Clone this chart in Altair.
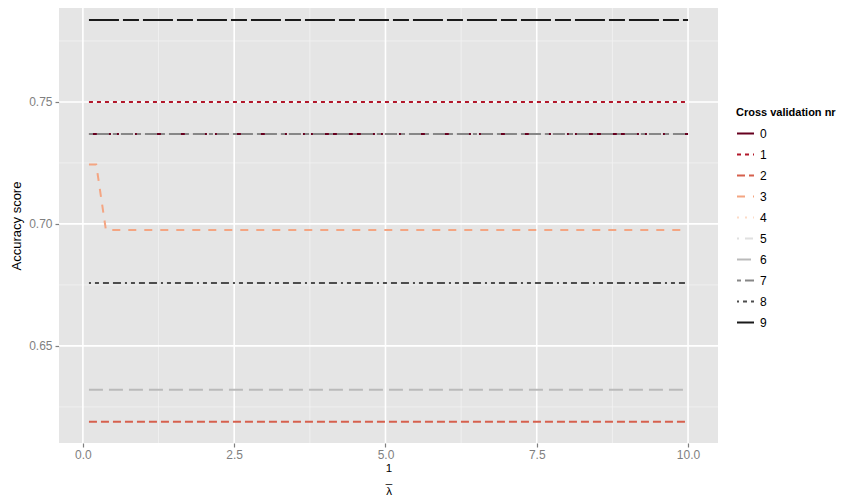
import altair as alt
import pandas as pd

# ---- data ----
cv_ids = ["0", "1", "2", "3", "4", "5", "6", "7", "8", "9"]
inv_lambda = [0.1, 0.22, 0.38, 10.0]
acc_0 = [0.7369, 0.7369, 0.7369, 0.7369]
acc_1 = [0.7500, 0.7500, 0.7500, 0.7500]
acc_2 = [0.6189, 0.6189, 0.6189, 0.6189]
acc_3 = [0.7244, 0.7244, 0.6975, 0.6975]
acc_4 = [0.7369, 0.7369, 0.7369, 0.7369]
acc_5 = [0.7369, 0.7369, 0.7369, 0.7369]
acc_6 = [0.6320, 0.6320, 0.6320, 0.6320]
acc_7 = [0.7369, 0.7369, 0.7369, 0.7369]
acc_8 = [0.6758, 0.6758, 0.6758, 0.6758]
acc_9 = [0.7836, 0.7836, 0.7836, 0.7836]
series = [acc_0, acc_1, acc_2, acc_3, acc_4, acc_5, acc_6, acc_7, acc_8, acc_9]

x_major = [0.0, 2.5, 5.0, 7.5, 10.0]
x_minor = [1.25, 3.75, 6.25, 8.75]
y_major = [0.65, 0.70, 0.75]
y_minor = [0.625, 0.675, 0.725, 0.775]

colors = ["#67001f", "#b2182b", "#d6604d", "#f4a582", "#fddbc7",
          "#e0e0e0", "#bababa", "#878787", "#4d4d4d", "#1a1a1a"]
dashes = [[1, 0], [4, 4], [8, 4], [8, 8], [2, 6], [2, 6, 8, 6],
          [14, 6], [4, 4, 12, 4], [2, 4, 4, 4, 6, 4, 8, 4], [30, 4, 16, 4]]

rows = []
for cv, vals in zip(cv_ids, series):
    for xv, yv in zip(inv_lambda, vals):
        rows.append({"cv": cv, "inv_lambda": xv, "acc": yv})
df = pd.DataFrame(rows)

FONT = "Liberation Sans"
GREY = "#7F7F7F"

xscale = alt.Scale(domain=[-0.395, 10.495], nice=False, zero=False)
yscale = alt.Scale(domain=[0.6102, 0.7885], nice=False, zero=False)

x_axis = alt.Axis(values=x_major, format=".1f", grid=False, domain=False,
                  tickColor=GREY, tickSize=4, tickWidth=1.2,
                  labelColor=GREY, labelFontSize=12, labelFont=FONT, labelPadding=2,
                  title=["1", "_", "\u03bb"], titleFont=FONT, titleFontSize=11.5,
                  titleFontWeight="normal", titleColor="black", titlePadding=2,
                  titleLineHeight=11.5)
y_axis = alt.Axis(values=y_major, format=".2f", grid=False, domain=False,
                  tickColor=GREY, tickSize=4, tickWidth=1.2,
                  labelColor=GREY, labelFontSize=12, labelFont=FONT, labelPadding=3,
                  title="Accuracy score", titleFont=FONT, titleFontSize=13,
                  titleFontWeight="normal", titleColor="black", titlePadding=5)

X = lambda f: alt.X(f, scale=xscale, axis=x_axis)
Y = lambda f: alt.Y(f, scale=yscale, axis=y_axis)

minor_x = alt.Chart(pd.DataFrame({"inv_lambda": x_minor})).mark_rule(
    color="#F2F2F2", strokeWidth=0.8).encode(x=X("inv_lambda:Q"))
minor_y = alt.Chart(pd.DataFrame({"acc": y_minor})).mark_rule(
    color="#F2F2F2", strokeWidth=0.8).encode(y=Y("acc:Q"))
major_x = alt.Chart(pd.DataFrame({"inv_lambda": x_major})).mark_rule(
    color="white", strokeWidth=1.6).encode(x=X("inv_lambda:Q"))
major_y = alt.Chart(pd.DataFrame({"acc": y_major})).mark_rule(
    color="white", strokeWidth=1.6).encode(y=Y("acc:Q"))

legend = alt.Legend(title="Cross validation nr", orient="none", legendX=677, legendY=99,
                    titleFont=FONT, titleFontSize=11, titleFontWeight="bold",
                    titleColor="black", titlePadding=7, titleLimit=200,
                    labelFont=FONT, labelFontSize=12, labelColor="black", labelOffset=5,
                    symbolType="stroke", symbolSize=289, symbolStrokeWidth=2,
                    clipHeight=17, rowPadding=4, padding=0)

lines = alt.Chart(df).mark_line(strokeWidth=2, strokeCap="butt").encode(
    x=X("inv_lambda:Q"),
    y=Y("acc:Q"),
    color=alt.Color("cv:N", scale=alt.Scale(domain=cv_ids, range=colors), legend=legend),
    strokeDash=alt.StrokeDash("cv:N", scale=alt.Scale(domain=cv_ids, range=dashes), legend=legend),
)

chart = alt.layer(minor_x, minor_y, major_x, major_y, lines).properties(
    width=659, height=435,
    autosize=alt.AutoSizeParams(type="none"),
    padding={"left": 51, "top": 0, "right": 122, "bottom": 53},
).configure_view(fill="#E5E5E5", strokeWidth=0)

chart.save("out.html", embed_options={"renderer": "svg", "actions": False})
